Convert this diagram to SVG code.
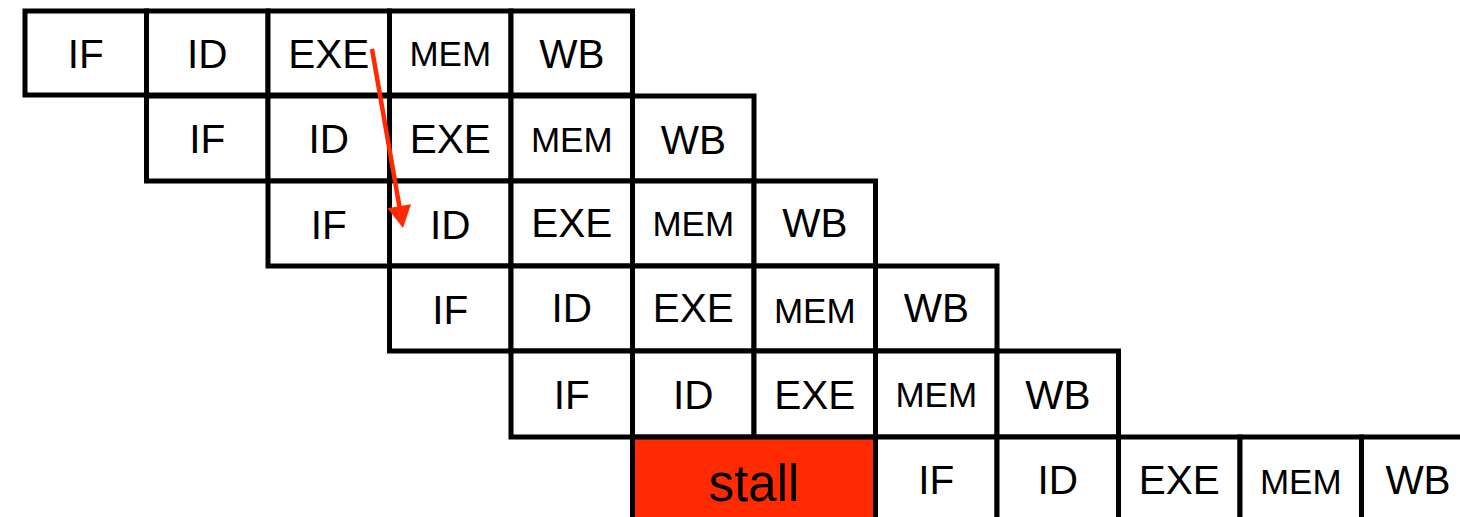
<svg xmlns="http://www.w3.org/2000/svg" width="1460" height="517" viewBox="0 0 1460 517">
  <style>
    .cell rect { fill: #ffffff; stroke: #000000; stroke-width: 5; }
    .cell text { font-family: "Liberation Sans", Arial, sans-serif; font-size: 40.5px; fill: #000000; text-anchor: middle; }
    .cell text.mem { font-size: 35px; }
    .stall rect { fill: #ff2a00; }
    .stall text { font-size: 51px; }
    .arrow { stroke: #ff2a00; stroke-width: 4.5; fill: none; }
    .arrowhead { fill: #ff2a00; }
  </style>

  <!-- Row 1: instruction 1 -->
  <g id="r1-if" class="cell"><rect x="25" y="11" width="121.5" height="84"/><text x="85.8" y="68">IF</text></g>
  <g id="r1-id" class="cell"><rect x="146.5" y="11" width="121.5" height="84"/><text x="207.3" y="68">ID</text></g>
  <g id="r1-exe" class="cell"><rect x="268" y="11" width="121.5" height="84"/><text x="328.8" y="68">EXE</text></g>
  <g id="r1-mem" class="cell"><rect x="389.5" y="11" width="121.5" height="84"/><text class="mem" x="450.3" y="66">MEM</text></g>
  <g id="r1-wb" class="cell"><rect x="511" y="11" width="121.5" height="84"/><text x="571.8" y="68">WB</text></g>

  <!-- Row 2: instruction 2 -->
  <g id="r2-if" class="cell"><rect x="146.5" y="96" width="121.5" height="85"/><text x="207.3" y="153">IF</text></g>
  <g id="r2-id" class="cell"><rect x="268" y="96" width="121.5" height="85"/><text x="328.8" y="153">ID</text></g>
  <g id="r2-exe" class="cell"><rect x="389.5" y="96" width="121.5" height="85"/><text x="450.3" y="153">EXE</text></g>
  <g id="r2-mem" class="cell"><rect x="511" y="96" width="121.5" height="85"/><text class="mem" x="571.8" y="151.5">MEM</text></g>
  <g id="r2-wb" class="cell"><rect x="632.5" y="96" width="121.5" height="85"/><text x="693.3" y="154">WB</text></g>

  <!-- Row 3: instruction 3 -->
  <g id="r3-if" class="cell"><rect x="268" y="181" width="121.5" height="85"/><text x="328.8" y="239">IF</text></g>
  <g id="r3-id" class="cell"><rect x="389.5" y="181" width="121.5" height="85"/><text x="450.3" y="239">ID</text></g>
  <g id="r3-exe" class="cell"><rect x="511" y="181" width="121.5" height="85"/><text x="571.8" y="237">EXE</text></g>
  <g id="r3-mem" class="cell"><rect x="632.5" y="181" width="121.5" height="85"/><text class="mem" x="693.3" y="236">MEM</text></g>
  <g id="r3-wb" class="cell"><rect x="754" y="181" width="121.5" height="85"/><text x="814.8" y="237">WB</text></g>

  <!-- Row 4: instruction 4 -->
  <g id="r4-if" class="cell"><rect x="389.5" y="266" width="121.5" height="85"/><text x="450.3" y="324">IF</text></g>
  <g id="r4-id" class="cell"><rect x="511" y="266" width="121.5" height="85"/><text x="571.8" y="322">ID</text></g>
  <g id="r4-exe" class="cell"><rect x="632.5" y="266" width="121.5" height="85"/><text x="693.3" y="322">EXE</text></g>
  <g id="r4-mem" class="cell"><rect x="754" y="266" width="121.5" height="85"/><text class="mem" x="814.8" y="323">MEM</text></g>
  <g id="r4-wb" class="cell"><rect x="875.5" y="266" width="121.5" height="85"/><text x="936.3" y="322">WB</text></g>

  <!-- Row 5: instruction 5 -->
  <g id="r5-if" class="cell"><rect x="511" y="351" width="121.5" height="86"/><text x="571.8" y="409">IF</text></g>
  <g id="r5-id" class="cell"><rect x="632.5" y="351" width="121.5" height="86"/><text x="693.3" y="409">ID</text></g>
  <g id="r5-exe" class="cell"><rect x="754" y="351" width="121.5" height="86"/><text x="814.8" y="409">EXE</text></g>
  <g id="r5-mem" class="cell"><rect x="875.5" y="351" width="121.5" height="86"/><text class="mem" x="936.3" y="407">MEM</text></g>
  <g id="r5-wb" class="cell"><rect x="997" y="351" width="121.5" height="86"/><text x="1057.8" y="409">WB</text></g>

  <!-- Row 6: instruction 6, delayed by a stall -->
  <g id="r6-stall" class="cell stall"><rect x="632.5" y="437" width="243" height="90"/><text x="754" y="501">stall</text></g>
  <g id="r6-if" class="cell"><rect x="875.5" y="437" width="121.5" height="90"/><text x="936.3" y="494">IF</text></g>
  <g id="r6-id" class="cell"><rect x="997" y="437" width="121.5" height="90"/><text x="1057.8" y="494">ID</text></g>
  <g id="r6-exe" class="cell"><rect x="1118.5" y="437" width="121.5" height="90"/><text x="1179.3" y="494">EXE</text></g>
  <g id="r6-mem" class="cell"><rect x="1240" y="437" width="121.5" height="90"/><text class="mem" x="1300.8" y="494">MEM</text></g>
  <g id="r6-wb" class="cell"><rect x="1361.5" y="437" width="121.5" height="90"/><text x="1418" y="494">WB</text></g>

  <!-- Forwarding dependency: EXE result of instruction 1 to ID of instruction 3 -->
  <g id="connectors">
    <line class="arrow" x1="372" y1="49" x2="399.5" y2="207"/>
    <polygon class="arrowhead" points="403,228 387.4,208.3 411,204.3"/>
  </g>
</svg>
